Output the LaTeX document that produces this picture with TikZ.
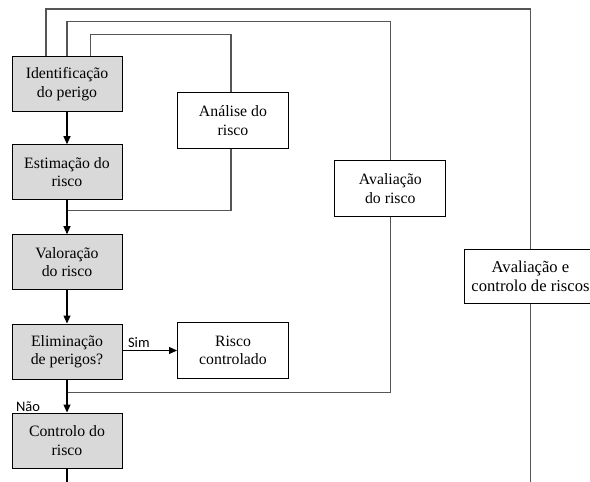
\documentclass[tikz,border=0pt]{standalone}
\usepackage{fontspec}
\setmainfont{Liberation Serif}
\newfontfamily\labelfont{Carlito}
\usetikzlibrary{arrows.meta}
\definecolor{stepgray}{HTML}{D9D9D9}
\definecolor{wiregray}{HTML}{555555}
\begin{document}
\begin{tikzpicture}[x=1pt,y=-1pt,
  boxtext/.style={align=center, inner sep=0pt,
    font=\rmfamily\fontsize{15.8}{18.5}\selectfont},
  stepbox/.style={boxtext, draw=black, line width=1pt, fill=stepgray,
    minimum width=110pt, minimum height=55pt},
  sidebox/.style={boxtext, draw=black, line width=1pt, fill=white,
    minimum width=111pt, minimum height=56pt},
  wire/.style={draw=wiregray, line width=1.1pt},
  flow/.style={draw=black, line width=1.1pt,
    -{Triangle[length=8pt,width=7pt]}},
  tag/.style={font=\labelfont\fontsize{14.5}{16}\selectfont, inner sep=0pt}]
\useasboundingbox (0,0) rectangle (590,482);
\clip (0,0) rectangle (590,482);

% main sequence of steps
\node[stepbox] (ident) at (67,84.2)  {Identificação\\do perigo};
\node[stepbox] (estim) at (67,172.2) {Estimação do\\risco};
\node[stepbox] (valor) at (67,262.2) {Valoração\\do risco};
\node[stepbox] (elim)  at (67,351.5) {Eliminação\\de perigos?};
\node[stepbox] (ctl)   at (67,440.5) {Controlo do\\risco};

% side boxes
\node[sidebox] (analise) at (233,120.5) {Análise do\\risco};
\node[sidebox] (riscoc)  at (233,350.5) {Risco\\controlado};
\node[sidebox, minimum width=110.7pt, minimum height=55.7pt]
  (avalrisk) at (390.3,188.8) {Avaliação\\do risco};
\node[sidebox, minimum width=132pt, minimum height=54pt,
  font=\rmfamily\fontsize{16.6}{19}\selectfont]
  (avalctl) at (530.5,276) {Avaliação e\\controlo de riscos};

% corner and junction points of the bracket lines
\coordinate (row1) at (300,9);
\coordinate (row2) at (300,21.7);
\coordinate (row3) at (150,34.3);
\coordinate (j3) at (67,210.7);
\coordinate (j2) at (67,392.7);
\coordinate (bottom) at (0,482);

% bracket lines
\draw[wire] ([xshift=-21pt]ident.north) |- (row1) -| (avalctl.north);
\draw[wire] (avalctl.south) -- (avalctl.south |- bottom);
\draw[wire] (ident.north) |- (row2) -| (avalrisk.north);
\draw[wire] (avalrisk.south) |- (j2);
\draw[wire] ([xshift=23.7pt]ident.north) |- (row3) -| ([xshift=-2pt]analise.north);
\draw[wire] ([xshift=-2pt]analise.south) |- (j3);

% flow arrows
\draw[flow] (ident) -- (estim);
\draw[flow] (estim) -- (valor);
\draw[flow] (valor) -- (elim);
\draw[flow] (elim) -- (ctl);
\draw[flow] (elim.east |- riscoc.west) -- node[tag, above=2pt, pos=0.3] (sim) {Sim} (riscoc.west);
\draw[line width=1.1pt] (ctl.south) -- (ctl.south |- bottom);
\node[tag] (nao) at (28,407) {Não};
\end{tikzpicture}
\end{document}
